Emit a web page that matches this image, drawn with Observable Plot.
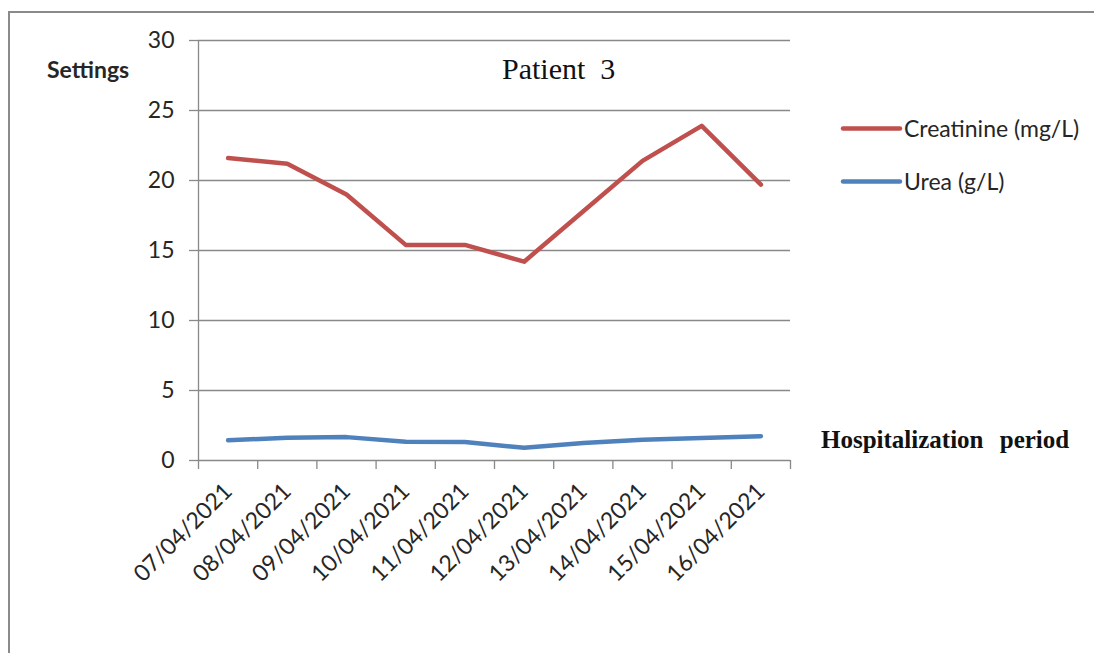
<!DOCTYPE html>
<html>
<head>
<meta charset="utf-8">
<script src="https://cdn.jsdelivr.net/npm/d3@7"></script>
<script src="https://cdn.jsdelivr.net/npm/@observablehq/plot@0.6"></script>
<style>
  html, body { margin: 0; padding: 0; background: #fff; overflow: hidden; }
  #wrap { position: relative; width: 1094px; height: 653px; }
  #frame { position: absolute; left: 8px; top: 11px; width: 2000px; height: 2000px;
           border-top: 2px solid #8a8a8a; border-left: 2px solid #8a8a8a; }
  #wrap svg { position: absolute; left: 0; top: 0; }
</style>
</head>
<body>
<div id="wrap"><div id="frame"></div></div>
<script>
// Daily lab values for patient 3 during the hospital stay
const dates = ["07/04/2021", "08/04/2021", "09/04/2021", "10/04/2021", "11/04/2021",
               "12/04/2021", "13/04/2021", "14/04/2021", "15/04/2021", "16/04/2021"];
const creatinine = [21.6, 21.2, 19.0, 15.4, 15.4, 14.2, 17.8, 21.4, 23.9, 19.7];
const urea = [1.44, 1.63, 1.67, 1.34, 1.32, 0.91, 1.25, 1.49, 1.6, 1.73];
const seriesNames = ["Creatinine (mg/L)", "Urea (g/L)"];
const seriesColors = ["#C0504D", "#4F81BD"];
const yTicks = [0, 5, 10, 15, 20, 25, 30];

const rows = dates.map((d, i) => ({i, date: d, creatinine: creatinine[i], urea: urea[i]}));
const idx = d3.range(dates.length);
const bounds = d3.range(dates.length + 1).map(i => i - 0.5);

const sans = "Lato, 'Open Sans', sans-serif";
const serif = "'Liberation Serif', 'DejaVu Serif', serif";
const gray = "#898989";
const ink = "#262626";

const chart = Plot.plot({
  width: 1094,
  height: 653,
  marginLeft: 198,
  marginRight: 304,
  marginTop: 40,
  marginBottom: 193,
  style: {fontFamily: sans, background: "transparent", color: ink},
  x: {type: "linear", domain: [-0.5, dates.length - 0.5]},
  y: {domain: [0, 30]},
  marks: [
    Plot.gridY(yTicks.filter(t => t > 0), {stroke: gray, strokeOpacity: 1, strokeWidth: 1.3}),
    Plot.ruleX([-0.5], {stroke: gray, strokeWidth: 1.3}),
    Plot.ruleY([0], {stroke: gray, strokeWidth: 1.3}),
    Plot.axisY(yTicks, {tickSize: 9, tickPadding: 15, fontSize: 23, stroke: gray, strokeWidth: 1.3,
                        fill: ink, label: null, tickFormat: d => d}),
    Plot.axisX(bounds, {tickSize: 9, stroke: gray, strokeWidth: 1.3, tickFormat: () => "", label: null}),
    Plot.axisX(idx, {tickSize: 0, tickPadding: 27, tickRotate: -45, fontSize: 23, fill: ink,
                     tickFormat: i => dates[i], label: null}),
    Plot.line(rows, {x: "i", y: "creatinine", stroke: seriesColors[0], strokeWidth: 4.5,
                     strokeLinejoin: "round", strokeLinecap: "round"}),
    Plot.line(rows, {x: "i", y: "urea", stroke: seriesColors[1], strokeWidth: 4.5,
                     strokeLinejoin: "round", strokeLinecap: "round"})
  ]
});
const wrap = document.getElementById("wrap");
wrap.appendChild(chart);

// Title, axis captions and legend drawn on top of the chart
const over = d3.create("svg").attr("width", 1094).attr("height", 653);
over.append("text").attr("x", 502).attr("y", 79).attr("font-family", serif).attr("font-size", 30)
  .attr("fill", "#111").style("white-space", "pre").text("Patient  3");
over.append("text").attr("x", 47).attr("y", 77.5).attr("font-family", sans).attr("font-size", 23)
  .attr("font-weight", "bold").attr("fill", ink).text("Settings");
over.append("text").attr("x", 821).attr("y", 448).attr("font-family", serif).attr("font-size", 25)
  .attr("font-weight", "bold").attr("fill", "#111").attr("word-spacing", 10).text("Hospitalization period");

const legendY = [128.5, 181.5];
seriesNames.forEach((name, k) => {
  const g = over.append("g").attr("transform", `translate(843,${legendY[k]})`);
  g.append("line").attr("x1", 0).attr("x2", 57).attr("stroke", seriesColors[k])
    .attr("stroke-width", 4.5).attr("stroke-linecap", "round");
  g.append("text").attr("x", 61).attr("y", 8).attr("font-family", sans).attr("font-size", 23)
    .attr("fill", ink).text(name);
});
wrap.appendChild(over.node());
</script>
</body>
</html>
